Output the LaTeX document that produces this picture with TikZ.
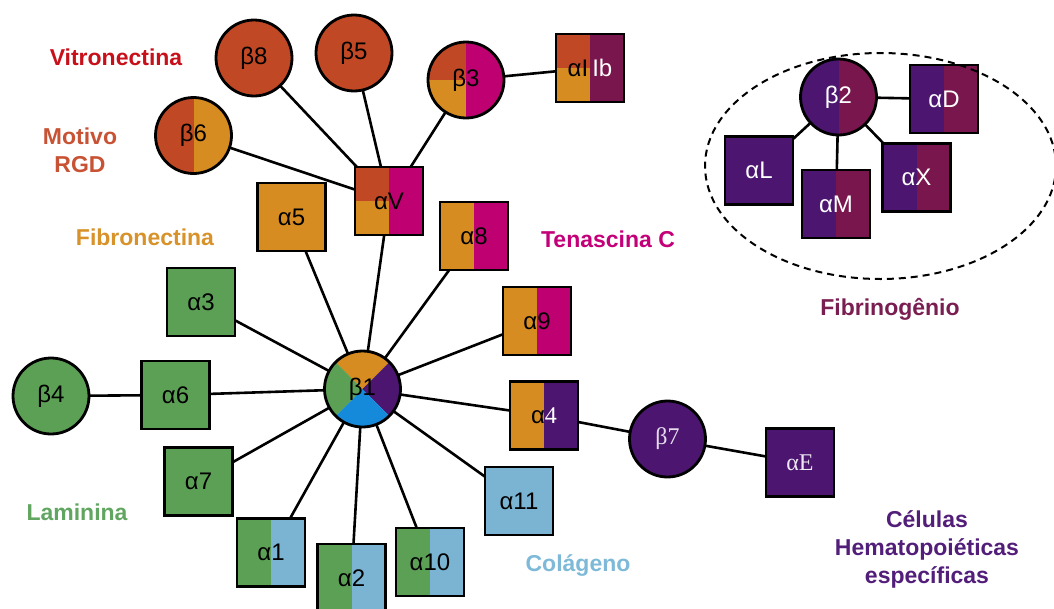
\documentclass[tikz,border=0pt]{standalone}
\usepackage{fontspec}
\setmainfont{Liberation Sans}
\newfontfamily\serifx{Liberation Serif}
\usetikzlibrary{backgrounds}
\definecolor{rust}{RGB}{192,72,36}
\definecolor{orng}{RGB}{214,140,32}
\definecolor{mgnt}{RGB}{190,0,112}
\definecolor{wine}{RGB}{122,22,78}
\definecolor{purp}{RGB}{76,22,112}
\definecolor{grn}{RGB}{92,160,86}
\definecolor{lblue}{RGB}{122,180,210}
\definecolor{blu}{RGB}{22,138,218}
\definecolor{tvitro}{RGB}{200,16,26}
\definecolor{trgd}{RGB}{200,82,52}
\definecolor{tfibro}{RGB}{216,146,42}
\definecolor{ttenas}{RGB}{196,0,120}
\definecolor{tlam}{RGB}{96,166,96}
\definecolor{tcol}{RGB}{126,186,216}
\definecolor{thema}{RGB}{82,30,122}
\definecolor{tfibrin}{RGB}{122,30,82}
\tikzset{
  nodebase/.style={draw=black, line width=2.8pt, inner sep=0pt, font=\fontsize{24}{26}\selectfont},
  sq/.style={nodebase, rectangle, minimum size=68pt},
  ci/.style={nodebase, circle, minimum size=76pt},
  halves/.style 2 args={path picture={
    \fill[#1] (path picture bounding box.south west) rectangle (path picture bounding box.north);
    \fill[#2] (path picture bounding box.south) rectangle (path picture bounding box.north east);}},
  quart/.style n args={3}{path picture={
    \fill[#1] (path picture bounding box.north west) rectangle (path picture bounding box.center);
    \fill[#2] (path picture bounding box.south west) rectangle (path picture bounding box.center);
    \fill[#3] (path picture bounding box.south) rectangle (path picture bounding box.north east);}},
  quad/.style={path picture={
    \fill[orng] (path picture bounding box.center) -- (path picture bounding box.north west) -- (path picture bounding box.north east) -- cycle;
    \fill[purp] (path picture bounding box.center) -- (path picture bounding box.north east) -- (path picture bounding box.south east) -- cycle;
    \fill[blu] (path picture bounding box.center) -- (path picture bounding box.south east) -- (path picture bounding box.south west) -- cycle;
    \fill[grn] (path picture bounding box.center) -- (path picture bounding box.south west) -- (path picture bounding box.north west) -- cycle;}},
  link/.style={draw=black, line width=2.6pt},
  lbl/.style={font=\fontsize{23}{28}\selectfont\bfseries, align=center, inner sep=0pt},
}
\begin{document}
\begin{tikzpicture}[x=1pt,y=-1pt]
\clip (0,0) rectangle (1054,608);
% beta-V group
\node[ci, fill=rust] (b8) at (254,58) {β8};
\node[ci, fill=rust] (b5) at (354,53) {β5};
\node[ci, quart={rust}{orng}{mgnt}] (b3) at (466,80) {β3};
\node[sq, quart={rust}{orng}{wine}] (a2b) at (590,68) {αI\,\textcolor{white}{Ib}};
\node[ci, halves={rust}{orng}] (b6) at (193.5,135.5) {β6};
\node[sq, quart={rust}{orng}{mgnt}] (aV) at (389,201) {αV};
% beta-1 group
\node[sq, fill=orng] (a5) at (291.5,217) {α5};
\node[sq, halves={orng}{mgnt}] (a8) at (474,236) {α8};
\node[sq, halves={orng}{mgnt}] (a9) at (537,321) {α9};
\node[sq, fill=grn] (a3) at (201,302) {α3};
\node[ci, fill=grn] (b4) at (51,396) {β4};
\node[sq, fill=grn] (a6) at (175.5,395) {α6};
\node[ci, quad] (b1) at (362.5,389) {β1};
\node[sq, fill=grn] (a7) at (198.5,481.5) {α7};
\node[sq, halves={grn}{lblue}] (a1) at (271,552.5) {α1};
\node[sq, halves={grn}{lblue}] (a2) at (351.5,578) {α2};
\node[sq, halves={grn}{lblue}] (a10) at (430,562) {α10};
\node[sq, fill=lblue] (a11) at (519,501) {α11};
\node[sq, halves={orng}{purp}] (a4) at (544,415.5) {α\textcolor{white}{\serifx 4}};
\node[ci, fill=purp, text=white!85!purp, font=\fontsize{24}{26}\serifx] (b7) at (667.5,439) {β7};
\node[sq, fill=purp, text=white!90!purp, font=\fontsize{24}{26}\serifx] (aE) at (800,462.5) {αE};
% beta-2 group
\node[ci, halves={purp}{wine}, text=white] (b2) at (838.5,97) {β2};
\node[sq, halves={purp}{wine}, text=white] (aD) at (944,99) {αD};
\node[sq, fill=purp, text=white] (aL) at (759,170.5) {αL};
\node[sq, halves={purp}{wine}, text=white] (aM) at (836,204) {αM};
\node[sq, halves={purp}{wine}, text=white] (aX) at (916.5,177.5) {αX};
\draw[line width=2pt, dash pattern=on 7pt off 5pt] (880.5,166) ellipse [x radius=175.5, y radius=113];
% connectors
\begin{scope}[on background layer]
  \foreach \s/\t in {b8/aV, b5/aV, b3/aV, b6/aV, b3/a2b,
      aV/b1, a5/b1, a8/b1, a9/b1, a3/b1, a6/b1, a7/b1, a1/b1, a2/b1, a10/b1, a11/b1, a4/b1,
      b4/a6, a4/b7, b7/aE, b2/aD, b2/aL, b2/aM, b2/aX}
    \draw[link] (\s.center) -- (\t.center);
\end{scope}
% labels
\node[lbl, text=tvitro, anchor=base] (lvitro) at (116,65) {Vitronectina};
\node[lbl, text=trgd] (lrgd) at (80,150) {Motivo\\RGD};
\node[lbl, text=tfibro, anchor=base] (lfibro) at (145,245) {Fibronectina};
\node[lbl, text=ttenas, anchor=base] (ltenas) at (608,247) {Tenascina C};
\node[lbl, text=tlam, anchor=base] (llam) at (77,520) {Laminina};
\node[lbl, text=tcol, anchor=base] (lcol) at (578,571) {Colágeno};
\node[lbl, text=tfibrin, anchor=base] (lfibrin) at (890,315) {Fibrinogênio};
\node[lbl, text=thema] (lhema) at (927,549) {Células\\Hematopoiéticas\\específicas};
\end{tikzpicture}
\end{document}
